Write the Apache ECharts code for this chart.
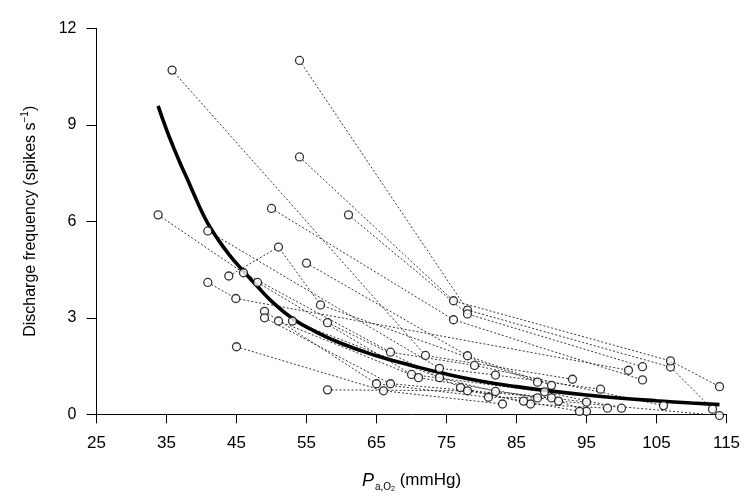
<!DOCTYPE html>
<html><head><meta charset="utf-8">
<script src="https://cdn.jsdelivr.net/npm/echarts@6/dist/echarts.min.js"></script>
<style>html,body{margin:0;padding:0;background:#fff}#c{width:750px;height:500px}</style>
</head><body><div id="c"></div>
<script>
// Individual fibres: [PaO2 (mmHg), discharge (spikes/s)]
const fiber1  = [[35.8,10.7],[72,1.83],[93,1.09]];
const fiber2  = [[54,11.0],[78,3.24],[107,1.47],[113,0.16]];
const fiber3  = [[54,8.0],[76,3.53],[107,1.66],[114,0.86]];
const fiber4  = [[61,6.2],[78,3.12],[103,1.48]];
const fiber5  = [[50,6.4],[76,2.94],[103,1.07]];
const fiber6  = [[40.9,4.1],[44.9,3.6],[101,1.37]];
const fiber7  = [[40.9,5.7],[74,1.43],[82,1.22],[97,0.78]];
const fiber8  = [[43.9,4.3],[51,5.2],[57,3.4],[88,1.0]];
const fiber9  = [[55,4.7],[78,1.82],[90,0.9]];
const fiber10 = [[46,4.4],[67,1.93],[79,1.52],[106,0.27]];
const fiber11 = [[33.8,6.2],[48,4.1],[70,1.24],[89,0.70],[100,0.19]];
const fiber12 = [[49,3.2],[65,0.95],[81,0.53],[88,0.51]];
const fiber13 = [[49,3.0],[67,0.95],[90,0.51],[95,0.09]];
const fiber14 = [[51,2.9],[71,1.14],[91,0.41],[114,-0.04]];
const fiber15 = [[53,2.9],[74,1.14],[82,0.71],[95,0.38]];
const fiber16 = [[58,2.85],[77,0.83],[87,0.32],[98,0.19]];
const fiber17 = [[45,2.1],[66,0.73],[83,0.32]];
const fiber18 = [[58,0.76],[78,0.73],[86,0.41],[94,0.09]];

// Fitted curve
const curveX = [33.8,35,36,37,38,39,40,41,42,44,46,48,50,53,56,60,65,70,75,80,85,90,95,100,105,110,114];
const curveY = [9.59,8.85,8.3,7.78,7.3,6.8,6.32,5.9,5.55,4.95,4.45,3.97,3.52,2.98,2.6,2.2,1.82,1.52,1.25,1.03,0.86,0.72,0.6,0.5,0.42,0.35,0.3];

// Axes
const xMin = 25, xMax = 115, xStep = 10;
const yMin = 0, yMax = 12, yStep = 3;

const fibers = [fiber1,fiber2,fiber3,fiber4,fiber5,fiber6,fiber7,fiber8,fiber9,
  fiber10,fiber11,fiber12,fiber13,fiber14,fiber15,fiber16,fiber17,fiber18];

const chart = echarts.init(document.getElementById('c'), null, {renderer:'canvas'});
const font = "'Liberation Sans', Arial, Helvetica, sans-serif";

const series = [];
fibers.forEach((f,i) => {
  series.push({
    type:'line', data:f, showSymbol:false, silent:true, z:2, animation:false,
    lineStyle:{color:'#222', width:0.9, type:[2,2]}
  });
});
series.push({
  type:'line', data: curveX.map((x,i)=>[x,curveY[i]]), showSymbol:false, smooth:true,
  z:3, animation:false, lineStyle:{color:'#000', width:3.6}
});
series.push({
  type:'scatter', data: fibers.flat(), symbol:'circle', symbolSize:8, z:4, clip:false,
  animation:false,
  itemStyle:{color:'#fff', borderColor:'#000', borderWidth:1.3}
});

chart.setOption({
  backgroundColor:'#fff',
  animation:false,
  grid:{left:96.5, right:23.5, top:28.3, bottom:85.7},
  xAxis:{
    type:'value', min:xMin, max:xMax, interval:xStep,
    axisLine:{show:true, onZero:false, lineStyle:{color:'#000', width:1}},
    axisTick:{show:true, length:9, lineStyle:{color:'#000', width:1}},
    splitLine:{show:false},
    axisLabel:{color:'#000', fontSize:17, fontFamily:font, margin:21},
    name:'{p|P}{s|a,O}{ss|2}{n| (mmHg)}',
    nameLocation:'middle', nameGap:55,
    nameTextStyle:{
      color:'#000', fontFamily:font, fontSize:17,
      rich:{
        p:{fontStyle:'italic', fontSize:18, fontFamily:font, color:'#000'},
        s:{fontSize:10, fontFamily:font, color:'#000', padding:[12,0,0,1]},
        ss:{fontSize:7, fontFamily:font, color:'#000', padding:[16,0,0,0]},
        n:{fontSize:17, fontFamily:font, color:'#000'}
      }
    }
  },
  yAxis:{
    type:'value', min:yMin, max:yMax, interval:yStep,
    axisLine:{show:true, onZero:false, lineStyle:{color:'#000', width:1}},
    axisTick:{show:true, length:10, lineStyle:{color:'#000', width:1}},
    splitLine:{show:false},
    axisLabel:{color:'#000', fontSize:16, fontFamily:font, margin:20},
    name:'{n|Discharge frequency (spikes s}{sup|−1}{n|)}',
    nameLocation:'middle', nameGap:56, nameRotate:90,
    nameTextStyle:{
      color:'#000', fontFamily:font, fontSize:16,
      rich:{
        n:{fontSize:16, fontFamily:font, color:'#000'},
        sup:{fontSize:10, fontFamily:font, color:'#000', padding:[0,0,10,0]}
      }
    }
  },
  series: series
});
</script>
</body></html>
